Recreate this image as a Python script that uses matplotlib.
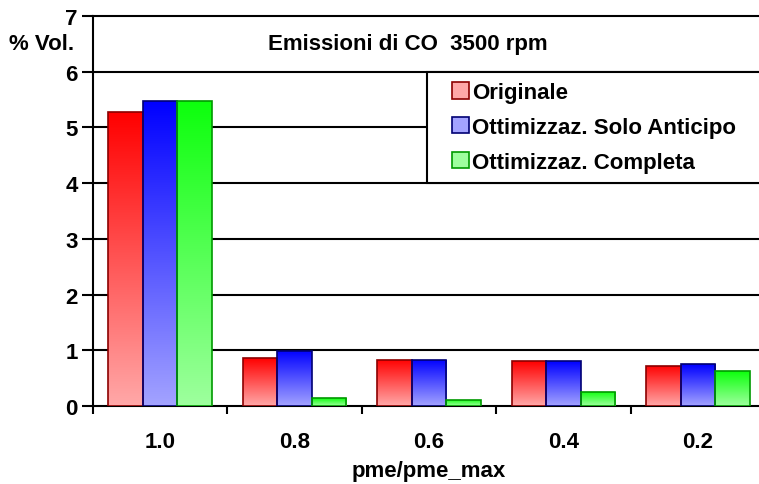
import numpy as np
import matplotlib
matplotlib.use('Agg')
import matplotlib.pyplot as plt
from matplotlib.patches import Patch, Rectangle
from matplotlib.colors import LinearSegmentedColormap

plt.rcParams['font.family'] = ['Liberation Sans', 'DejaVu Sans']
plt.rcParams['font.weight'] = 'bold'

# dati: CO in % vol. per ciascun carico
carichi = ['1.0', '0.8', '0.6', '0.4', '0.2']
originale = [5.27, 0.86, 0.83, 0.80, 0.72]
solo_anticipo = [5.47, 0.99, 0.83, 0.80, 0.75]
completa = [5.47, 0.14, 0.11, 0.26, 0.62]
serie = ['Originale', 'Ottimizzaz. Solo Anticipo', 'Ottimizzaz. Completa']

# colore in alto, colore in basso, bordo
colori = [((1.0, 0.0, 0.0), (1.0, 0.66, 0.66), (0.55, 0.0, 0.0)),
          ((0.0, 0.0, 1.0), (0.64, 0.64, 1.0), (0.0, 0.0, 0.45)),
          ((0.05, 1.0, 0.05), (0.62, 1.0, 0.62), (0.0, 0.6, 0.0))]

fs = 16

fig = plt.figure(figsize=(7.59, 4.85), dpi=100)
ax = fig.add_axes([93 / 759, 1 - 407 / 485, 672 / 759, 390 / 485])

x = np.arange(len(carichi))
w = 0.257
# riga 0 = parte alta della barra
grad = np.linspace(0, 1, 256).reshape(-1, 1)

for i, valori in enumerate([originale, solo_anticipo, completa]):
    top, bottom, edge = colori[i]
    cmap = LinearSegmentedColormap.from_list('g%d' % i, [top, bottom])
    bars = ax.bar(x + (i - 1) * w, valori, w, facecolor='none',
                  edgecolor=edge, linewidth=1.2, zorder=4)
    for b in bars:
        x0, y0 = b.get_x(), b.get_y()
        im = ax.imshow(grad, cmap=cmap, aspect='auto', zorder=3, origin='upper',
                       extent=(x0, x0 + b.get_width(), y0, y0 + b.get_height()))
        im.set_clip_path(b)

# griglia orizzontale
for v in range(1, 7):
    ax.axhline(v, color='black', lw=1.5, zorder=1)

ax.set_xlim(-0.5, len(carichi) - 0.5)
ax.set_ylim(0, 7)
ax.set_yticks(range(8))
ax.set_xticks(np.arange(len(carichi) + 1) - 0.5)
ax.set_xticklabels([])
ax.set_xticks(x, minor=True)
ax.set_xticklabels(carichi, minor=True)
ax.tick_params(axis='x', which='minor', length=0, pad=18, labelsize=fs)
ax.tick_params(axis='x', which='major', length=6, width=1.5, direction='out')
ax.tick_params(axis='y', length=8, width=1.5, labelsize=fs, pad=3)

for s in ['left', 'bottom', 'top']:
    ax.spines[s].set_linewidth(1.5)
ax.spines['right'].set_visible(False)

ax.text(0.468, 6.5, 'Emissioni di CO  3500 rpm', ha='center', va='center',
        fontsize=fs, transform=ax.get_yaxis_transform())
ax.text(-0.028, 6.5, '% Vol.', ha='right', va='center', fontsize=fs,
        transform=ax.get_yaxis_transform())
ax.set_xlabel('pme/pme_max', fontsize=fs, fontweight='bold', labelpad=6)

# riquadro della legenda (da 4 a 6 sull'asse y, aperto a destra)
ax.add_patch(Rectangle((0.497, 4), 0.6, 2, transform=ax.get_yaxis_transform(),
                       facecolor='white', edgecolor='black', linewidth=1.5,
                       zorder=5, clip_on=False))

handles = [Patch(facecolor=c[1], edgecolor=c[2], linewidth=1.2) for c in colori]
leg = ax.legend(handles, serie, loc='center left',
                bbox_to_anchor=(0.534, 5 / 7), frameon=False,
                fontsize=fs, handlelength=0.75, handleheight=0.75,
                handletextpad=0.15, labelspacing=0.62, borderpad=0,
                borderaxespad=0)
leg.set_zorder(6)

fig.savefig('out.png', dpi=100)
